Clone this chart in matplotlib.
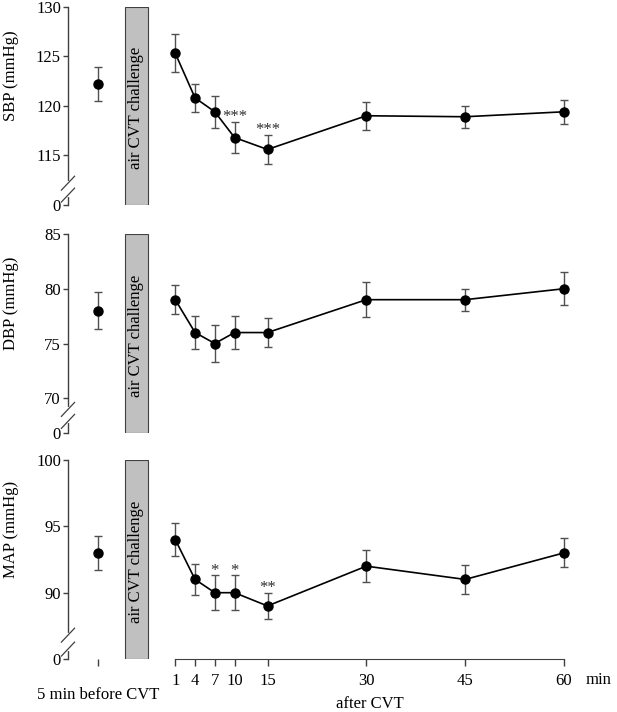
import matplotlib
matplotlib.use("Agg")
import matplotlib.pyplot as plt
from matplotlib.transforms import blended_transform_factory

plt.rcParams['font.family'] = ['Liberation Serif', 'DejaVu Serif']
plt.rcParams['font.size'] = 12

# ---- data ----
minutes = [1, 4, 7, 10, 15, 30, 45, 60]
tick_labels = ['1', '4', '7', '10', '15', '30', '45', '60']

sbp_base, sbp_base_err = 122.2, 1.7
sbp = [125.3, 120.8, 119.4, 116.8, 115.6, 119.0, 118.9, 119.4]
sbp_err = [1.9, 1.45, 1.6, 1.55, 1.5, 1.4, 1.1, 1.2]

dbp_base, dbp_base_err = 78.0, 1.7
dbp = [79.0, 76.0, 75.0, 76.0, 76.0, 79.0, 79.0, 80.0]
dbp_err = [1.3, 1.5, 1.7, 1.5, 1.3, 1.6, 1.0, 1.5]

map_base, map_base_err = 93.0, 1.3
mapv = [94.0, 91.0, 90.0, 90.0, 89.0, 92.0, 91.0, 93.0]
map_err = [1.25, 1.2, 1.3, 1.3, 1.0, 1.2, 1.1, 1.1]

sbp_stars = {10: '***', 15: '***'}
dbp_stars = {}
map_stars = {7: '*', 10: '*', 15: '**'}

panels = [
    dict(name='SBP (mmHg)', base=sbp_base, base_err=sbp_base_err, vals=sbp, errs=sbp_err,
         stars=sbp_stars, ylim=(110, 130), yticks=[110, 115, 120, 125, 130],
         ylabels=['0', '115', '120', '125', '130'], pos=(0.7121, 0.2785), brk=(0.05, 0.11)),
    dict(name='DBP (mmHg)', base=dbp_base, base_err=dbp_base_err, vals=dbp, errs=dbp_err,
         stars=dbp_stars, ylim=(66.8, 85), yticks=[66.8, 70, 75, 80, 85],
         ylabels=['0', '70', '75', '80', '85'], pos=(0.3914, 0.28), brk=(0.06, 0.12)),
    dict(name='MAP (mmHg)', base=map_base, base_err=map_base_err, vals=mapv, errs=map_err,
         stars=map_stars, ylim=(85, 100), yticks=[85, 90, 95, 100],
         ylabels=['0', '90', '95', '100'], pos=(0.0744, 0.2795), brk=(0.05, 0.12)),
]

base_x = -10.7
box_x = (-6.6, -3.2)
xlim = (-15.29, 68.06)

fig = plt.figure(figsize=(6.17, 7.12), dpi=100)
spine_col = '#404040'
err_col = '#505050'

for i, p in enumerate(panels):
    ax = fig.add_axes([0.1102, p['pos'][0], 0.8898, p['pos'][1]])
    ax.set_xlim(*xlim)
    ax.set_ylim(*p['ylim'])
    for s in ['top', 'right']:
        ax.spines[s].set_visible(False)
    ax.spines['left'].set_color(spine_col)
    ax.spines['left'].set_linewidth(1.0)
    ax.set_yticks(p['yticks'])
    ax.set_yticklabels(p['ylabels'])
    ax.tick_params(axis='y', direction='out', length=3.6, width=1.0, color=spine_col, pad=1.5, labelsize=12)

    # gray box
    ax.axvspan(box_x[0], box_x[1], ymin=0, ymax=1, facecolor='#c0c0c0', edgecolor='#404040', linewidth=0.8, zorder=1)
    ax.text((box_x[0] + box_x[1]) / 2, 0.49, 'air CVT challenge', rotation=90, ha='center', va='center',
            transform=blended_transform_factory(ax.transData, ax.transAxes), fontsize=12, zorder=3)

    # baseline
    ax.errorbar([base_x], [p['base']], yerr=[p['base_err']], fmt='o', color='black', markersize=6.5,
                ecolor=err_col, elinewidth=1.0, capsize=3, capthick=1.0, zorder=4)
    # time course
    ax.errorbar(minutes, p['vals'], yerr=p['errs'], fmt='-o', color='black', markersize=6.5, linewidth=1.2,
                ecolor=err_col, elinewidth=1.0, capsize=3, capthick=1.0, zorder=4)

    for m, s in p['stars'].items():
        idx = minutes.index(m)
        yv = p['vals'][idx] + p['errs'][idx]
        ax.annotate(s, (m, yv), xytext=(0, 3.5), textcoords='offset points', ha='center', va='center',
                    fontsize=12, color='#303030')

    # y label
    ax.text(-0.104, 0.65, p['name'], rotation=90, ha='center', va='center', transform=ax.transAxes, fontsize=12)

    # axis break marks
    b0, b1 = p['brk']
    trans = ax.transAxes
    ax.plot([0, 0], [b0, b1], color='white', linewidth=3, transform=trans, clip_on=False, zorder=5)
    for yy in (b0, b1):
        ax.plot([-0.012, 0.012], [yy - 0.035, yy + 0.035], color=spine_col, linewidth=0.9,
                transform=trans, clip_on=False, zorder=6)

    if i < 2:
        ax.spines['bottom'].set_visible(False)
        ax.set_xticks([])
    else:
        ax.spines['bottom'].set_bounds(1, 60)
        ax.spines['bottom'].set_color(spine_col)
        ax.set_xticks([base_x] + minutes)
        ax.set_xticklabels([''] + tick_labels)
        ax.tick_params(axis='x', direction='out', length=5, width=1.0, color=spine_col, pad=5, labelsize=12)
        bt = blended_transform_factory(ax.transData, ax.transAxes)
        ax.text(65.2, -0.106, 'min', transform=bt, ha='center', va='center', fontsize=12)
        ax.text(base_x, -0.18, '5 min before CVT', transform=bt, ha='center', va='center', fontsize=12)
        ax.text(30.5, -0.226, 'after CVT', transform=bt, ha='center', va='center', fontsize=12)

fig.savefig('out.png', dpi=100)
